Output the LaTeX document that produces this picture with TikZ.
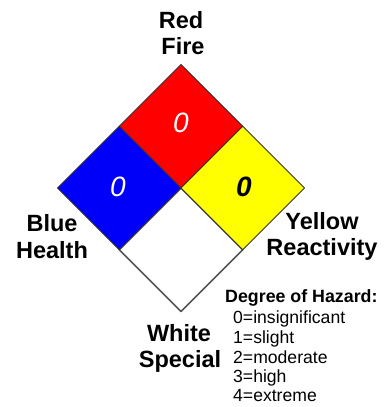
\documentclass[tikz,border=0pt]{standalone}
\usepackage{fontspec}
\setmainfont{Liberation Sans}
\usetikzlibrary{positioning}

\definecolor{firered}{RGB}{255,0,0}
\definecolor{healthblue}{RGB}{0,0,250}
\definecolor{reactyellow}{RGB}{255,255,0}
\definecolor{edgegray}{RGB}{85,85,85}

\tikzset{
  panel/.style={draw=black!80, line width=0.9pt, line join=round},
  rating/.style={font=\bfseries\itshape\fontsize{28pt}{30pt}\selectfont, inner sep=0pt},
  colorlbl/.style={anchor=base, inner sep=0pt},
  legendhead/.style={anchor=base west, inner sep=0pt, font=\bfseries\fontsize{17.8pt}{20pt}\selectfont},
  legendrow/.style={anchor=base west, inner sep=0pt, font=\normalfont\fontsize{17.6pt}{19pt}\selectfont}
}

\begin{document}
\begin{tikzpicture}[x=1pt, y=-1pt, font=\bfseries\fontsize{23.5pt}{26pt}\selectfont]

\useasboundingbox (0,0) rectangle (385,407);

% ==================== DIAMOND ====================
% Outer vertices
\coordinate (T) at (181, 64.5);
\coordinate (L) at (57.5, 188);
\coordinate (R) at (304.5, 188);
\coordinate (B) at (181, 311.5);
% Inner vertices
\coordinate (M) at (181, 188);
\coordinate (TL) at (119.25, 126.25);
\coordinate (TR) at (242.75, 126.25);
\coordinate (BL) at (119.25, 249.75);
\coordinate (BR) at (242.75, 249.75);

% White (special) -- grey outline
\filldraw[fill=white, draw=edgegray, line width=1.5pt, line join=round] (M) -- (BR) -- (B) -- (BL) -- cycle;

% Red (fire)
\filldraw[panel, fill=firered] (T) -- (TR) -- (M) -- (TL) -- cycle;

% Blue (health)
\filldraw[panel, fill=healthblue] (TL) -- (M) -- (BL) -- (L) -- cycle;

% Yellow (reactivity)
\filldraw[panel, fill=reactyellow] (TR) -- (R) -- (BR) -- (M) -- cycle;

% Ratings
\node[rating, text=white] (firenum) at (181, 123) {\mdseries 0};
\node[rating, text=white] (healthnum) at (118, 187) {\mdseries 0};
\node[rating, text=black] (reactnum) at (244, 187) {0};

% ==================== LABELS ====================
\node[colorlbl] (redlbl) at (181, 28) {Red};
\node[colorlbl] (firelbl) at (183, 54) {Fire};

\node[colorlbl] (bluelbl) at (52, 231) {Blue};
\node[colorlbl] (healthlbl) at (52, 258) {Health};

\node[colorlbl] (yellowlbl) at (322, 229) {Yellow};
\node[colorlbl] (reactlbl) at (322, 255) {Reactivity};

\node[colorlbl] (whitelbl) at (179, 341) {White};
\node[colorlbl] (speciallbl) at (180, 367) {Special};

% ==================== LEGEND ====================
\node[legendhead] (hazhead) at (225, 302) {Degree of Hazard:};
\node[legendrow] (haz0) at (233, 323) {0=insignificant};
\node[legendrow] (haz1) at (233, 343) {1=slight};
\node[legendrow] (haz2) at (233, 363) {2=moderate};
\node[legendrow] (haz3) at (233, 382) {3=high};
\node[legendrow] (haz4) at (233, 401) {4=extreme};

\end{tikzpicture}
\end{document}
